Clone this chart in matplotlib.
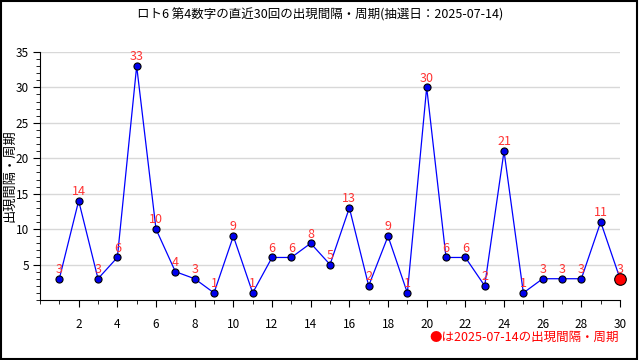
import numpy as np
import matplotlib.pyplot as plt
from matplotlib.ticker import MultipleLocator

plt.rcParams['font.family'] = ['Noto Sans CJK JP', 'DejaVu Sans']

draws = list(range(1, 31))
gaps = [3, 14, 3, 6, 33, 10, 4, 3, 1, 9, 1, 6, 6, 8, 5, 13, 2, 9, 1, 30,
        6, 6, 2, 21, 1, 3, 3, 3, 11, 3]
title = 'ロト6 第4数字の直近30回の出現間隔・周期(抽選日：2025-07-14)'
ylabel = '出現間隔・周期'
note = '●は2025-07-14の出現間隔・周期'

fig = plt.figure(figsize=(6.4, 3.6), dpi=100)
ax = fig.add_axes([0.0625, 0.1667, 0.9063, 0.689])

ax.plot(draws, gaps, c='blue', lw=0.9, zorder=2)
ax.scatter(draws[:-1], gaps[:-1], s=26, c='#0000ee', edgecolors='black', linewidths=0.8, zorder=3)
ax.scatter(draws[-1:], gaps[-1:], s=70, c='red', edgecolors='black', linewidths=0.8,
           zorder=3, clip_on=False)
for x, y in zip(draws, gaps):
    ax.annotate(str(y), (x, y), xytext=(0, 2), textcoords='offset points',
                ha='center', va='bottom', color='#ff3333', fontsize=9, zorder=4)

ax.set_xlim(0, 30)
ax.set_ylim(0, 35)
ax.xaxis.set_minor_locator(MultipleLocator(1))
ax.yaxis.set_minor_locator(MultipleLocator(1))
ax.set_yticks([5, 10, 15, 20, 25, 30, 35])
ax.set_xticks(range(2, 31, 2))
ax.tick_params(which='major', length=5, labelsize=8.5, pad=8)
ax.tick_params(which='minor', length=3)
ax.tick_params(axis='y', pad=3)
ax.grid(axis='y', color='#d8d8d8', lw=1)
ax.set_axisbelow(True)
for s in ['top', 'right']:
    ax.spines[s].set_visible(False)
ax.set_ylabel(ylabel, fontsize=9.5)
ax.yaxis.set_label_coords(-0.04, 0.5)

fig.text(0.5, 0.958, title, ha='center', va='center', fontsize=9)
fig.text(0.967, 0.064, note, ha='right', va='center', color='red', fontsize=9)

fig.patches.append(plt.Rectangle((0.001, 0.003), 0.995, 0.995, transform=fig.transFigure,
                                 fill=False, ec='black', lw=1.5))
fig.savefig('out.png', dpi=100)
